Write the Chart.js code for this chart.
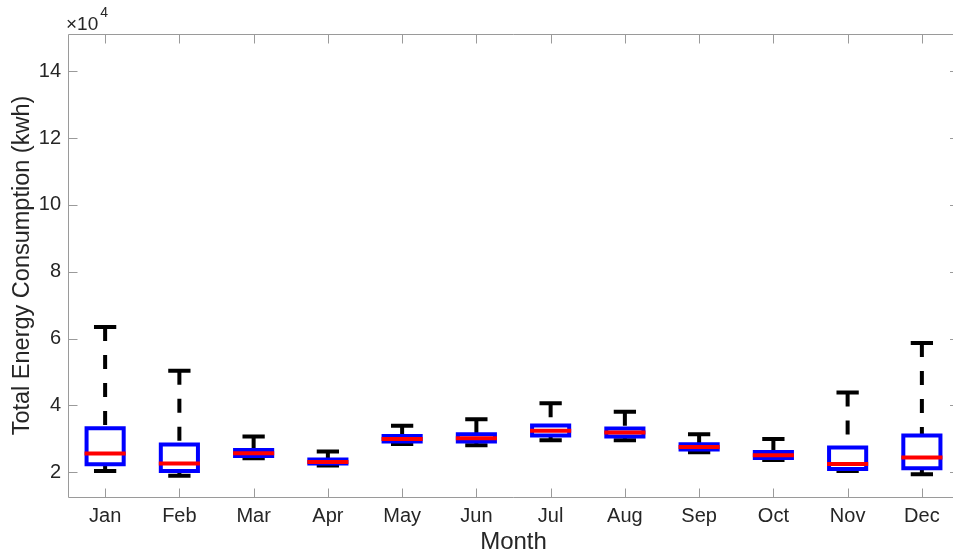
<!DOCTYPE html>
<html>
<head>
<meta charset="utf-8">
<script src="https://cdn.jsdelivr.net/npm/chart.js@4/dist/chart.umd.min.js"></script>
<style>
  html, body { margin: 0; padding: 0; background: #fff; overflow: hidden; }
  #wrap { position: relative; width: 960px; height: 554px; }
</style>
</head>
<body>
<div id="wrap"><canvas id="c"></canvas></div>
<script>
// ---- data (kWh) ----
const months = ['Jan','Feb','Mar','Apr','May','Jun','Jul','Aug','Sep','Oct','Nov','Dec'];
const whiskerLow  = [20400,19000,24200,22000,28500,28100,29600,29600,26000,23700,20400,19400];
const q1          = [22400,20400,24900,22600,29200,29200,31000,30700,26800,24300,21000,21200];
const median      = [25600,22600,25700,23100,30000,30200,32400,31900,27600,25100,22500,24400];
const q3          = [33200,28300,26700,23800,30900,31400,34000,33100,28400,26100,27400,31000];
const whiskerHigh = [63500,50400,30700,26200,33900,35900,40700,38100,31400,30000,43900,58700];
const yTicks = [20000,40000,60000,80000,100000,120000,140000];

const BOX_HALF = 0.25;
const CAP_HALF = 0.15;

// build line-segment datasets from the arrays
const boxPts = [], medPts = [], capPts = [], whiskPts = [];
months.forEach((m, i) => {
  const x = i + 1;
  boxPts.push({x: x - BOX_HALF, y: q1[i]}, {x: x + BOX_HALF, y: q1[i]},
              {x: x + BOX_HALF, y: q3[i]}, {x: x - BOX_HALF, y: q3[i]},
              {x: x - BOX_HALF, y: q1[i]}, {x: x, y: null});
  medPts.push({x: x - BOX_HALF, y: median[i]}, {x: x + BOX_HALF, y: median[i]}, {x: x, y: null});
  capPts.push({x: x - CAP_HALF, y: whiskerHigh[i]}, {x: x + CAP_HALF, y: whiskerHigh[i]}, {x: x, y: null},
              {x: x - CAP_HALF, y: whiskerLow[i]}, {x: x + CAP_HALF, y: whiskerLow[i]}, {x: x, y: null});
  whiskPts.push({x: x, y: whiskerHigh[i]}, {x: x, y: q3[i]}, {x: x, y: null},
                {x: x, y: whiskerLow[i]}, {x: x, y: q1[i]}, {x: x, y: null});
});

const TEXT = '#262626';
const FRAME = '#9a9a9a';
const FONT = "'Liberation Sans', Arial, Helvetica, sans-serif";

const framePlugin = {
  id: 'frame',
  beforeDatasetsDraw(chart) {
    const {ctx, chartArea: a, scales: {x, y}} = chart;
    const L = Math.round(a.left) + 0.5, T = Math.round(a.top) + 0.5, B = Math.round(a.bottom) + 0.5;
    ctx.save();
    ctx.strokeStyle = FRAME;
    ctx.lineWidth = 1;
    ctx.beginPath();
    ctx.moveTo(a.right, T); ctx.lineTo(L, T); ctx.lineTo(L, B); ctx.lineTo(a.right, B);
    months.forEach((m, i) => {
      const px = Math.round(x.getPixelForValue(i + 1)) + 0.5;
      ctx.moveTo(px, B); ctx.lineTo(px, B - 9);
      ctx.moveTo(px, T); ctx.lineTo(px, T + 9);
    });
    yTicks.forEach(v => {
      const py = Math.round(y.getPixelForValue(v)) + 0.5;
      ctx.moveTo(L, py); ctx.lineTo(L + 9, py);
      ctx.moveTo(a.right, py); ctx.lineTo(a.right - 9, py);
    });
    ctx.stroke();
    // exponent label
    ctx.fillStyle = TEXT;
    ctx.textBaseline = 'alphabetic';
    ctx.textAlign = 'left';
    ctx.font = "19px " + FONT;
    const base = '\u00d710';
    const bx = a.left - 2, by = a.top - 4;
    ctx.fillText(base, bx, by);
    const w = ctx.measureText(base).width;
    ctx.font = "14px " + FONT;
    ctx.fillText('4', bx + w + 2, by - 13);
    ctx.restore();
  }
};

const lineCommon = {
  type: 'line', pointRadius: 0, pointHoverRadius: 0, tension: 0,
  fill: false, spanGaps: false
};

new Chart(document.getElementById('c'), {
  type: 'line',
  data: {
    datasets: [
      Object.assign({}, lineCommon, {label: 'Median', data: medPts, borderColor: '#ff0000', borderWidth: 4, borderCapStyle: 'square'}),
      Object.assign({}, lineCommon, {label: 'Box', data: boxPts, borderColor: '#0000ff', borderWidth: 4, borderCapStyle: 'square', borderJoinStyle: 'miter'}),
      Object.assign({}, lineCommon, {label: 'Caps', data: capPts, borderColor: '#000000', borderWidth: 4, borderCapStyle: 'butt'}),
      Object.assign({}, lineCommon, {label: 'Whiskers', data: whiskPts, borderColor: '#000000', borderWidth: 4, borderDash: [14, 14], borderCapStyle: 'butt'})
    ]
  },
  options: {
    responsive: true,
    maintainAspectRatio: false,
    devicePixelRatio: 1,
    animation: false,
    events: [],
    layout: { padding: { top: 34, right: 1, left: 0, bottom: 0 } },
    plugins: { legend: { display: false }, tooltip: { enabled: false } },
    scales: {
      x: {
        type: 'linear',
        min: 0.5, max: 12.5,
        grid: { display: false, drawTicks: false },
        border: { display: false },
        afterBuildTicks(scale) { scale.ticks = months.map((m, i) => ({value: i + 1})); },
        afterFit(scale) { scale.height = 57; },
        ticks: {
          autoSkip: false, maxRotation: 0, padding: 7,
          color: TEXT, font: { family: FONT, size: 20 },
          callback: (v) => months[Math.round(v) - 1]
        },
        title: {
          display: true, text: 'Month', color: TEXT,
          font: { family: FONT, size: 24, lineHeight: 1 },
          padding: { top: 0, bottom: 0 }
        }
      },
      y: {
        type: 'linear',
        min: 12610, max: 151160,
        grid: { display: false, drawTicks: false },
        border: { display: false },
        afterBuildTicks(scale) { scale.ticks = yTicks.map(v => ({value: v})); },
        afterFit(scale) { scale.width = 68; },
        ticks: {
          padding: 7, color: TEXT, font: { family: FONT, size: 20 },
          callback: (v) => String(v / 10000)
        },
        title: {
          display: true, text: 'Total Energy Consumption (kwh)', color: TEXT,
          font: { family: FONT, size: 23.5, lineHeight: 1 },
          padding: { top: 11, bottom: 0 }
        }
      }
    }
  },
  plugins: [framePlugin]
});
</script>
</body>
</html>
